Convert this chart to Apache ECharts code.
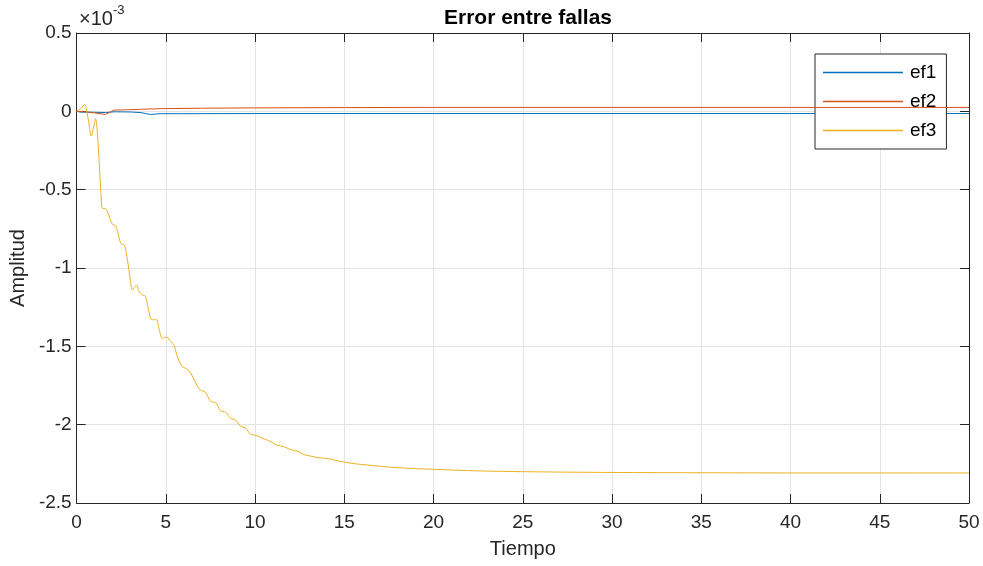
<!DOCTYPE html>
<html>
<head>
<meta charset="utf-8">
<script src="https://cdn.jsdelivr.net/npm/echarts@6/dist/echarts.min.js"></script>
<style>
  html, body { margin: 0; padding: 0; background: #fff; }
  #chart { width: 983px; height: 566px; }
</style>
</head>
<body>
<div id="chart"></div>
<script>
// values are in units of 1e-3 (axis shows x10^-3)
const xTicks = [0, 5, 10, 15, 20, 25, 30, 35, 40, 45, 50];
const yTicks = [0.5, 0, -0.5, -1, -1.5, -2, -2.5];

const tEf1 = [0, 0.2, 1.0, 1.62, 2.1, 3.0, 3.6, 3.9, 4.14, 4.7, 6, 10, 20, 30, 40, 50];
const ef1 = [0, -0.005, -0.006, -0.008, -0.003, -0.004, -0.008, -0.015, -0.02, -0.015, -0.015, -0.014, -0.014, -0.014, -0.014, -0.014];

const tEf2 = [0, 0.5, 1.0, 1.62, 2.09, 2.8, 3.6, 4.7, 7, 10, 15, 20, 30, 40, 50];
const ef2 = [0, -0.003, -0.01, -0.02, 0.008, 0.01, 0.013, 0.017, 0.02, 0.022, 0.024, 0.025, 0.025, 0.025, 0.025];

const tEf3 = [0, 0.25, 0.45, 0.65, 0.82, 0.95, 1.06, 1.2, 1.35, 1.45, 1.6, 1.7, 1.85, 2.0, 2.18,
  2.3, 2.46, 2.6, 2.69, 2.85, 3.0, 3.12, 3.25, 3.36, 3.5, 3.64, 3.76, 3.86, 4.0, 4.2, 4.35,
  4.48, 4.62, 4.8, 4.92, 5.04, 5.2, 5.45, 5.6, 5.73, 5.92, 6.1, 6.25, 6.48, 6.7, 6.94, 7.2,
  7.5, 7.8, 8.06, 8.35, 8.62, 8.9, 9.18, 9.46, 9.74, 10.1, 10.5, 10.9, 11.2, 11.6, 12.0,
  12.4, 12.7, 13.1, 13.5, 14.0, 14.4, 15.3, 16.5, 18, 20, 22.5, 25, 27.5, 30, 35, 40, 45, 50];
const ef3 = [0, 0.02, 0.045, -0.05, -0.158, -0.1, -0.047, -0.2, -0.5, -0.62, -0.62, -0.635, -0.68, -0.72, -0.73,
  -0.77, -0.84, -0.85, -0.855, -0.95, -1.07, -1.14, -1.12, -1.11, -1.15, -1.17, -1.175, -1.18, -1.25, -1.33, -1.33,
  -1.33, -1.39, -1.45, -1.445, -1.44, -1.46, -1.49, -1.55, -1.59, -1.63, -1.64, -1.65, -1.69, -1.74, -1.78, -1.79,
  -1.85, -1.86, -1.91, -1.92, -1.96, -1.97, -2.01, -2.02, -2.06, -2.07, -2.09, -2.11, -2.13, -2.14, -2.16,
  -2.17, -2.19, -2.2, -2.21, -2.215, -2.225, -2.245, -2.26, -2.275, -2.285, -2.295, -2.3, -2.303, -2.305, -2.307, -2.308, -2.308, -2.308];

const font = "'Liberation Sans', Arial, Helvetica, sans-serif";
const ink = '#262626';
const pair = (ts, vs) => ts.map((t, i) => [t, vs[i]]);

const chart = echarts.init(document.getElementById('chart'));

const baseX = {
  type: 'value', min: 0, max: 50, interval: 5,
  axisLine: { onZero: false, lineStyle: { color: ink, width: 1 } },
  axisTick: { inside: true, length: 9, lineStyle: { color: ink } }
};
const baseY = {
  type: 'value', min: -2.5, max: 0.5, interval: 0.5,
  axisLine: { onZero: false, lineStyle: { color: ink, width: 1 } },
  axisTick: { inside: true, length: 9, lineStyle: { color: ink } }
};

chart.setOption({
  animation: false,
  backgroundColor: '#fff',
  textStyle: { fontFamily: font },
  title: {
    text: 'Error entre fallas',
    left: 523, top: 3, textAlign: 'center',
    textStyle: { fontFamily: font, fontSize: 21, fontWeight: 'bold', color: '#000' }
  },
  grid: { left: 76, right: 14, top: 33, bottom: 63, show: false },
  legend: {
    orient: 'vertical', left: 815, top: 54,
    padding: [9, 10, 9, 8], itemGap: 10,
    itemWidth: 80, itemHeight: 1.5, icon: 'rect',
    backgroundColor: '#fff', borderColor: ink, borderWidth: 1, borderRadius: 0,
    textStyle: { fontFamily: font, fontSize: 19, color: '#000', padding: [0, 0, 0, 2] },
    data: ['ef1', 'ef2', 'ef3']
  },
  xAxis: [
    Object.assign({}, baseX, {
      position: 'bottom',
      name: 'Tiempo', nameLocation: 'middle', nameGap: 36,
      nameTextStyle: { fontFamily: font, fontSize: 20, color: ink },
      axisLabel: { fontFamily: font, fontSize: 19, color: ink, margin: 10,
        formatter: v => xTicks.includes(v) ? String(v) : '' },
      splitLine: { show: true, lineStyle: { color: '#e3e3e3', width: 1 } }
    }),
    Object.assign({}, baseX, {
      position: 'top', axisLabel: { show: false }, splitLine: { show: false }
    })
  ],
  yAxis: [
    Object.assign({}, baseY, {
      position: 'left',
      name: 'Amplitud', nameLocation: 'middle', nameGap: 46,
      nameTextStyle: { fontFamily: font, fontSize: 20, color: ink },
      axisLabel: { fontFamily: font, fontSize: 19, color: ink, margin: 5,
        formatter: v => yTicks.includes(v) ? String(v) : '' },
      splitLine: { show: true, lineStyle: { color: '#e3e3e3', width: 1 } }
    }),
    Object.assign({}, baseY, {
      position: 'right', axisLabel: { show: false }, splitLine: { show: false }
    })
  ],
  graphic: [{
    type: 'text', left: 79, top: 4,
    style: {
      text: '{a|×10}{b|-3}',
      rich: {
        a: { fontFamily: font, fontSize: 20, fill: ink, padding: [9, 0, 0, 0] },
        b: { fontFamily: font, fontSize: 13, fill: ink, padding: [0, 0, 9, 0] }
      }
    }
  }],
  series: [
    { name: 'ef1', type: 'line', data: pair(tEf1, ef1), showSymbol: false, z: 3,
      lineStyle: { color: '#0072BD', width: 1 }, itemStyle: { color: '#0072BD' } },
    { name: 'ef2', type: 'line', data: pair(tEf2, ef2), showSymbol: false, z: 4,
      lineStyle: { color: '#D95319', width: 1 }, itemStyle: { color: '#D95319' } },
    { name: 'ef3', type: 'line', data: pair(tEf3, ef3), showSymbol: false, z: 5, smooth: 0.3,
      lineStyle: { color: '#EDB120', width: 1 }, itemStyle: { color: '#EDB120' } }
  ]
});
</script>
</body>
</html>
